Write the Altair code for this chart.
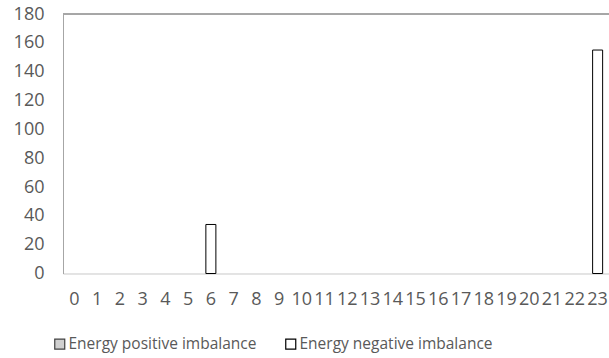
import altair as alt
import pandas as pd

hours = list(range(24))
positive = [0] * 24
negative = [0, 0, 0, 0, 0, 0, 34, 0, 0, 0, 0, 0, 0, 0, 0, 0, 0, 0, 0, 0, 0, 0, 0, 155]
series_names = ["Energy positive imbalance", "Energy negative imbalance"]

rows = []
for h, p, n in zip(hours, positive, negative):
    rows.append({"hour": str(h), "series": series_names[0], "value": p})
    rows.append({"hour": str(h), "series": series_names[1], "value": n})
df = pd.DataFrame(rows)

FONT = "Open Sans"
TXT = "#595959"
W, H = 546, 259.5

bars = alt.Chart(df).mark_bar(strokeWidth=1).encode(
    x=alt.X("hour:N", sort=[str(h) for h in hours], title=None,
            scale=alt.Scale(paddingInner=0.56, paddingOuter=0.28),
            axis=alt.Axis(labelAngle=0, ticks=False, domainColor="#d9d9d9", domainWidth=1,
                          labelPadding=17, labelFont=FONT, labelFontSize=18, labelColor=TXT,
                          labelOverlap=False)),
    y=alt.Y("value:Q", stack=None, title=None,
            scale=alt.Scale(domain=[0, 180], nice=False),
            axis=alt.Axis(values=list(range(0, 181, 20)), grid=False, ticks=False,
                          domainColor="#a6a6a6", labelPadding=19, labelFont=FONT,
                          labelFontSize=18, labelColor=TXT)),
    fill=alt.Fill("series:N", scale=alt.Scale(domain=series_names, range=["#d0d0d0", "#ffffff"]),
                  legend=alt.Legend(title=None, orient="none", legendX=-11, legendY=322,
                                    direction="horizontal", columns=2, columnPadding=26,
                                    symbolType="square", symbolSize=100, symbolStrokeWidth=1.2,
                                    labelFont=FONT, labelFontSize=15.5, labelColor=TXT,
                                    labelOffset=1, labelLimit=400)),
    stroke=alt.Stroke("series:N", scale=alt.Scale(domain=series_names, range=["#404040", "#000000"]),
                      legend=None),
    strokeWidth=alt.condition(alt.datum.value > 0, alt.value(1), alt.value(0)),
)

top_border = alt.Chart(df).mark_rule(color="#a6a6a6", strokeWidth=1).encode(
    x=alt.value(0), x2=alt.value(W), y=alt.value(0)
)

chart = alt.layer(bars, top_border).properties(
    width=W, height=H,
    padding={"left": 63, "top": 14, "right": 0, "bottom": 84},
    autosize=alt.AutoSizeParams(type="none"),
).configure_view(stroke=None).configure(background="white")

chart.save("out.html", embed_options={"renderer": "svg", "actions": False})
